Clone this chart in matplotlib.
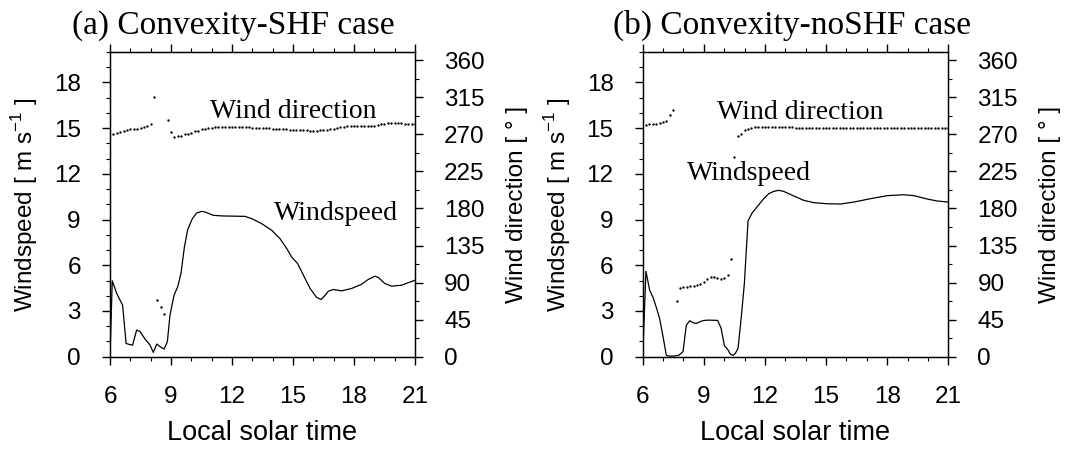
import numpy as np
import matplotlib
matplotlib.use('Agg')
import matplotlib.pyplot as plt
from matplotlib.ticker import MultipleLocator

plt.rcParams['font.family'] = 'Liberation Sans'
plt.rcParams['mathtext.fontset'] = 'custom'
plt.rcParams['mathtext.rm'] = 'Liberation Sans'

# windspeed traces (local solar time [h], speed [m/s])
speed_a_time = [6.0, 6.11, 6.33, 6.62, 6.79, 6.93, 7.11, 7.31, 7.48, 7.72, 7.97, 8.13, 8.30, 8.46,
                8.66, 8.82, 8.95, 9.15, 9.33, 9.49, 9.66, 9.82, 10.05, 10.26, 10.51, 10.67, 11.08,
                11.49, 12.64, 12.97, 13.46, 13.95, 14.36, 14.69, 14.93, 15.23, 15.51, 15.84, 16.16,
                16.38, 16.54, 16.74, 16.98, 17.39, 17.89, 18.38, 18.70, 19.03, 19.20, 19.52, 19.85,
                20.34, 21.0]
speed_a = [0.0, 4.98, 4.15, 3.38, 0.87, 0.81, 0.76, 1.75, 1.64, 1.16, 0.76, 0.28, 0.83, 0.66,
           0.50, 0.98, 2.73, 4.04, 4.59, 5.46, 7.21, 8.34, 9.06, 9.43, 9.54, 9.50, 9.28,
           9.24, 9.21, 9.06, 8.73, 8.30, 7.75, 7.10, 6.55, 6.11, 5.35, 4.48, 3.89,
           3.76, 3.97, 4.30, 4.41, 4.32, 4.48, 4.76, 5.07, 5.28, 5.20, 4.80, 4.63,
           4.69, 5.02]

speed_b_time = [6.0, 6.16, 6.34, 6.51, 6.67, 6.83, 7.0, 7.16, 7.28, 7.52, 7.77, 7.98, 8.14, 8.31,
                8.47, 8.64, 8.80, 9.0, 9.24, 9.68, 9.85, 10.01, 10.17, 10.30, 10.44, 10.55, 10.68,
                10.84, 10.99, 11.17, 11.37, 11.61, 11.94, 12.19, 12.43, 12.68, 12.92, 13.42, 13.91,
                14.40, 15.05, 15.71, 16.36, 17.18, 18.0, 18.82, 19.31, 19.96, 20.45, 21.0]
speed_b = [0.0, 5.61, 4.37, 3.89, 3.23, 2.51, 1.31, 0.09, 0.04, 0.04, 0.09, 0.33, 2.07, 2.36,
           2.23, 2.18, 2.29, 2.38, 2.40, 2.38, 1.86, 0.72, 0.48, 0.17, 0.09, 0.22, 0.55,
           2.62, 4.80, 8.91, 9.43, 9.83, 10.37, 10.70, 10.85, 10.92, 10.85, 10.55, 10.26,
           10.11, 10.04, 10.02, 10.15, 10.37, 10.57, 10.63, 10.57, 10.35, 10.22, 10.15]

# wind direction every 10 min from 06:10 to 21:00 [deg], nan = no output
nan = np.nan
dir_time = [6 + k / 6 for k in range(1, 91)]
dir_a = [271, 272, 273, 274, 275, 276, 277, 277, 278, 279, 280, 283,
         315, 69, 60, 52, 287.5, 273, 267,
         267.5, 268.5, 270, 271, 272, 273.5, 274.5, 276, 276.7, 277.5, 278.2, 278.8, 279, 279.2,
         279.3, 279.3, 279.2, 279.1, 279, 278.8, 278.6, 278.4, 278.2, 278, 277.8, 277.5, 277.3,
         277.1, 277, 276.7, 276.5, 276.3, 276, 275.8, 275.5, 275.2, 275, 274.8, 274.7, 274.6,
         274.6, 274.6, 274.7, 274.8, 275.3, 276, 276.8, 277.6, 278.4, 279, 279.6, 280, 280.3,
         280.4, 280.3, 280.1, 280, 280.1, 280.5, 281.2, 282, 282.6, 283.2, 283.6, 283.7, 283.6,
         283.3, 283, 282.7, 282.4, 282.1]
dir_b = [281.5, 282, 282.3, 282.7, 283.6, 284.4, 286.4, 294, 300,
         67.5, 83.6, 84.4, 84.8, 85.6, 86, 87.2, 88.5, 90.9, 94.1, 96.5, 96.9, 95.7, 94.9, 95.3, 99,
         118.4, 242.4,
         267.4, 270.6, 274.7, 276.7, 277.9, 278.5, 278.9, 279.2, 279.4, 279.5, 279.5, 279.4,
         279.3, 279.1, 278.9, 278.7, 278.5, 278.3, 278.1, 278, 277.9, 277.8, 277.7, 277.6,
         277.6, 277.5, 277.5, 277.5, 277.5, 277.6, 277.6, 277.7, 277.7, 277.8, 277.8, 277.8,
         277.8, 277.8, 277.8, 277.8, 277.8, 277.8, 277.8, 277.8, 277.8, 277.8, 277.8, 277.8,
         277.8, 277.8, 277.8, 277.8, 277.7, 277.7, 277.7, 277.7, 277.7, 277.6, 277.6, 277.6,
         277.6, 277.6, 277.5]

panels = [
    dict(rect=[0.1032, 0.2056, 0.2861, 0.6786], title='(a) Convexity-SHF case', title_x=72,
         t=speed_a_time, ws=speed_a, wd=dir_a,
         dir_label=(10.92, 15.7), speed_label=(14.07, 9.0)),
    dict(rect=[0.6029, 0.2056, 0.2867, 0.6786], title='(b) Convexity-noSHF case', title_x=613,
         t=speed_b_time, ws=speed_b, wd=dir_b,
         dir_label=(9.63, 15.6), speed_label=(8.16, 11.6)),
]

fig = plt.figure(figsize=(10.66, 4.49), dpi=100)

tick_kw = dict(direction='out', labelsize=17.5, pad=15, width=1.0)
for p in panels:
    ax = fig.add_axes(p['rect'])
    ax2 = ax.twinx()

    ax.plot(p['t'], p['ws'], color='black', lw=0.9)
    ax2.plot(dir_time, p['wd'], ls='none', marker='o', ms=1.7, mew=0, color='black')

    ax.set_xlim(6, 21)
    ax.set_ylim(0, 20)
    ax2.set_ylim(0, 370)
    ax.xaxis.set_major_locator(MultipleLocator(3))
    ax.xaxis.set_minor_locator(MultipleLocator(1))
    ax.set_yticks(np.arange(0, 19, 3))
    ax.yaxis.set_minor_locator(MultipleLocator(1))
    ax2.set_yticks(np.arange(0, 361, 45))
    ax2.yaxis.set_minor_locator(MultipleLocator(22.5))

    ax.tick_params(which='both', top=True, **tick_kw)
    ax.tick_params(which='major', length=6)
    ax.tick_params(which='minor', length=3.2, width=0.8)
    ax2.tick_params(which='both', **tick_kw)
    ax2.tick_params(which='major', length=6)
    ax2.tick_params(which='minor', length=3.2, width=0.8)
    for s in ax2.spines.values():
        s.set_linewidth(1.0)

    ax.set_xlabel('Local solar time', fontsize=19.5, labelpad=9)
    ax.set_ylabel(r'Windspeed [ m s$^{\mathrm{-1}}$ ]', fontsize=17.5, labelpad=10)
    ax2.set_ylabel('Wind direction [ ° ]', fontsize=17.5, labelpad=15)

    ax.text(*p['dir_label'], 'Wind direction', family='Liberation Serif', fontsize=20,
            va='baseline', ha='left')
    ax.text(*p['speed_label'], 'Windspeed', family='Liberation Serif', fontsize=20,
            va='baseline', ha='left')

    fig.text(p['title_x'] / 1066, 1 - 34 / 449, p['title'], family='Liberation Serif',
             fontsize=24, va='baseline', ha='left')

fig.savefig('out.png', dpi=100)
